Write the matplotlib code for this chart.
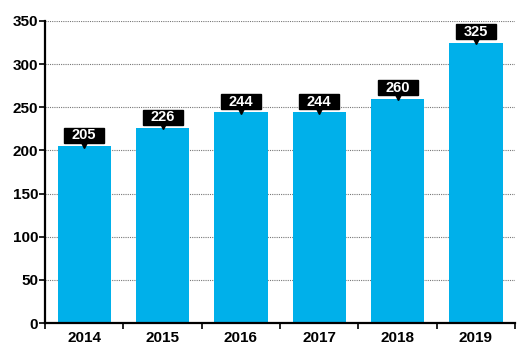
import matplotlib
matplotlib.use("Agg")
import matplotlib.pyplot as plt
from matplotlib.patches import Rectangle

years = ["2014", "2015", "2016", "2017", "2018", "2019"]
values = [205, 226, 244, 244, 260, 325]
yticks = [0, 50, 100, 150, 200, 250, 300, 350]

plt.rcParams['font.family'] = ['Liberation Sans Narrow', 'Liberation Sans', 'DejaVu Sans']
plt.rcParams['font.weight'] = 'bold'

fig = plt.figure(figsize=(5.3, 3.5), dpi=100)
ax = fig.add_axes([0.085, 0.077, 0.887, 0.863])

x = range(len(years))
ax.bar(x, values, width=0.68, color='#00b0ea', zorder=2)

# black value tags with a small pointer
for i, v in zip(x, values):
    ax.add_patch(Rectangle((i - 0.255, v + 3.8), 0.51, 17.5, color='black', zorder=4))
    ax.plot(i, v + 3.0, marker='v', color='black', markersize=6, zorder=4)
    ax.text(i, v + 12.5, str(v), color='white', ha='center', va='center',
            fontsize=10.5, fontweight='bold', zorder=5)

ax.set_xlim(-0.5, len(years) - 0.5)
ax.set_ylim(0, 350)
ax.set_yticks(yticks)
ax.set_xticks(list(x))
ax.set_xticklabels(years)
ax.set_xticks([i - 0.5 for i in range(len(years) + 1)], minor=True)
ax.tick_params(axis='x', which='major', length=0, labelsize=11, pad=6)
ax.tick_params(axis='x', which='minor', length=4, width=1.2, direction='out')
ax.tick_params(axis='y', length=4, width=1.2, labelsize=11, pad=1)
for lab in ax.get_xticklabels() + ax.get_yticklabels():
    lab.set_fontweight('bold')

ax.grid(axis='y', linestyle=(0, (1, 1)), color='#777777', linewidth=0.8, zorder=0)
for s in ['top', 'right']:
    ax.spines[s].set_visible(False)
ax.spines['left'].set_linewidth(1.6)
ax.spines['bottom'].set_linewidth(1.6)

fig.savefig("out.png", dpi=100)
